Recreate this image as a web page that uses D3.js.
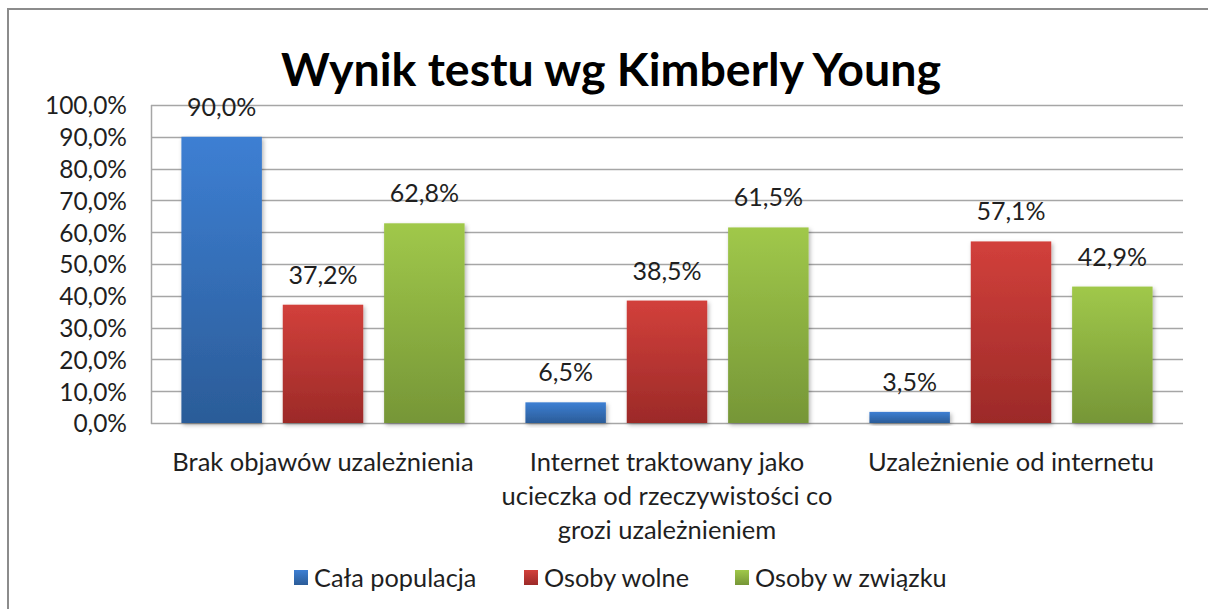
<!DOCTYPE html>
<html>
<head>
<meta charset="utf-8">
<script src="https://cdn.jsdelivr.net/npm/d3@7"></script>
<style>
  html, body { margin: 0; padding: 0; background: #fff; }
  svg { display: block; font-family: Lato, "Open Sans", sans-serif; }
</style>
</head>
<body>
<svg id="chart" width="1208" height="609"></svg>
<script>
// Chart data
const title = "Wynik testu wg Kimberly Young";
const categories = [
  ["Brak objawów uzależnienia"],
  ["Internet traktowany jako", "ucieczka od rzeczywistości co", "grozi uzależnieniem"],
  ["Uzależnienie od internetu"]
];
const seriesNames = ["Cała populacja", "Osoby wolne", "Osoby w związku"];
const calaPopulacja = [0.900, 0.065, 0.035];
const osobyWolne   = [0.372, 0.385, 0.571];
const osobyWZwiazku = [0.628, 0.615, 0.429];
const yTicks = [0, 0.1, 0.2, 0.3, 0.4, 0.5, 0.6, 0.7, 0.8, 0.9, 1.0];

const seriesValues = [calaPopulacja, osobyWolne, osobyWZwiazku];
const seriesColors = [
  { top: "#3d7fd3", bottom: "#2b5c98" },
  { top: "#d2403b", bottom: "#9c2a28" },
  { top: "#a0c84a", bottom: "#769637" }
];

const W = 1208, H = 609;
const plot = { left: 151, right: 1183, top: 105, bottom: 423 };
const textColor = "#1f1f1f";

const pl = d3.formatLocale({ decimal: ",", thousands: " ", grouping: [3], currency: ["", " zł"] });
const fmt = pl.format(".1%");

const svg = d3.select("#chart");
const defs = svg.append("defs");

seriesColors.forEach((c, i) => {
  const g = defs.append("linearGradient")
    .attr("id", "grad" + i).attr("x1", 0).attr("y1", 0).attr("x2", 0).attr("y2", 1);
  g.append("stop").attr("offset", "0%").attr("stop-color", c.top);
  g.append("stop").attr("offset", "100%").attr("stop-color", c.bottom);
});

const shadow = defs.append("filter").attr("id", "barShadow")
  .attr("x", "-10%").attr("y", "-10%").attr("width", "130%").attr("height", "130%");
shadow.append("feDropShadow")
  .attr("dx", 1.5).attr("dy", 2).attr("stdDeviation", 2)
  .attr("flood-color", "#000").attr("flood-opacity", 0.3);

// Outer frame
svg.append("rect")
  .attr("x", 8).attr("y", 9).attr("width", W + 20).attr("height", H + 20)
  .attr("fill", "#fff").attr("stroke", "#8c8c8c").attr("stroke-width", 2);

// Scales
const x0 = d3.scaleBand()
  .domain(d3.range(categories.length))
  .range([plot.left, plot.right])
  .paddingInner(0).paddingOuter(0);

const x1 = d3.scaleBand()
  .domain(d3.range(seriesNames.length))
  .range([0, x0.bandwidth()])
  .paddingInner(0.206).paddingOuter(0.3);

const y = d3.scaleLinear().domain([0, 1]).range([plot.bottom, plot.top]);

// Gridlines
svg.append("g")
  .selectAll("line")
  .data(yTicks)
  .join("line")
  .attr("x1", plot.left).attr("x2", plot.right)
  .attr("y1", d => Math.round(y(d)) + 0.5).attr("y2", d => Math.round(y(d)) + 0.5)
  .attr("stroke", "#a6a6a6").attr("stroke-width", 1.5);

// Left axis line
svg.append("line")
  .attr("x1", plot.left + 0.5).attr("x2", plot.left + 0.5)
  .attr("y1", plot.top).attr("y2", plot.bottom + 1)
  .attr("stroke", "#a6a6a6").attr("stroke-width", 1.5);

// Y axis labels
const yAxis = d3.axisLeft(y).tickValues(yTicks).tickFormat(fmt).tickSize(0).tickPadding(0);
const yg = svg.append("g").attr("transform", `translate(${plot.left - 24},0)`).call(yAxis);
yg.select(".domain").remove();
yg.selectAll("text")
  .attr("fill", textColor)
  .style("font-size", "24.5px")
  .style("font-family", "Lato, sans-serif")
  .attr("dy", "0.36em");

// Bars
const groups = svg.append("g").selectAll("g")
  .data(categories.map((c, i) => i))
  .join("g")
  .attr("transform", i => `translate(${x0(i)},0)`);

groups.selectAll("rect")
  .data(ci => seriesValues.map((vals, si) => ({ si, v: vals[ci] })))
  .join("rect")
  .attr("x", d => x1(d.si))
  .attr("width", x1.bandwidth())
  .attr("y", d => y(d.v))
  .attr("height", d => y(0) - y(d.v))
  .attr("fill", d => `url(#grad${d.si})`)
  .attr("filter", "url(#barShadow)");

// Value labels
groups.selectAll("text.val")
  .data(ci => seriesValues.map((vals, si) => ({ si, v: vals[ci] })))
  .join("text")
  .attr("class", "val")
  .attr("x", d => x1(d.si) + x1.bandwidth() / 2)
  .attr("y", d => y(d.v) - 21)
  .attr("text-anchor", "middle")
  .attr("fill", textColor)
  .style("font-size", "25px")
  .text(d => fmt(d.v));

// Category labels
const catG = svg.append("g");
categories.forEach((lines, i) => {
  const t = catG.append("text")
    .attr("x", x0(i) + x0.bandwidth() / 2)
    .attr("y", 471)
    .attr("text-anchor", "middle")
    .attr("fill", textColor)
    .style("font-size", "25.5px");
  lines.forEach((ln, k) => {
    t.append("tspan").attr("x", x0(i) + x0.bandwidth() / 2).attr("y", 471 + k * 34).text(ln);
  });
});

// Title
svg.append("text")
  .attr("x", 611).attr("y", 86)
  .attr("text-anchor", "middle")
  .attr("fill", "#000")
  .style("font-size", "46.5px")
  .style("font-weight", "bold")
  .text(title);

// Legend
const legendX = [294, 524, 735];
const lg = svg.append("g");
seriesNames.forEach((name, i) => {
  const g = lg.append("g").attr("transform", `translate(${legendX[i]},578)`);
  g.append("rect").attr("x", 0).attr("y", -8).attr("width", 14).attr("height", 15)
    .attr("fill", `url(#grad${i})`);
  g.append("text").attr("x", 20).attr("y", 9)
    .attr("fill", textColor).style("font-size", "25.3px").text(name);
});
</script>
</body>
</html>
